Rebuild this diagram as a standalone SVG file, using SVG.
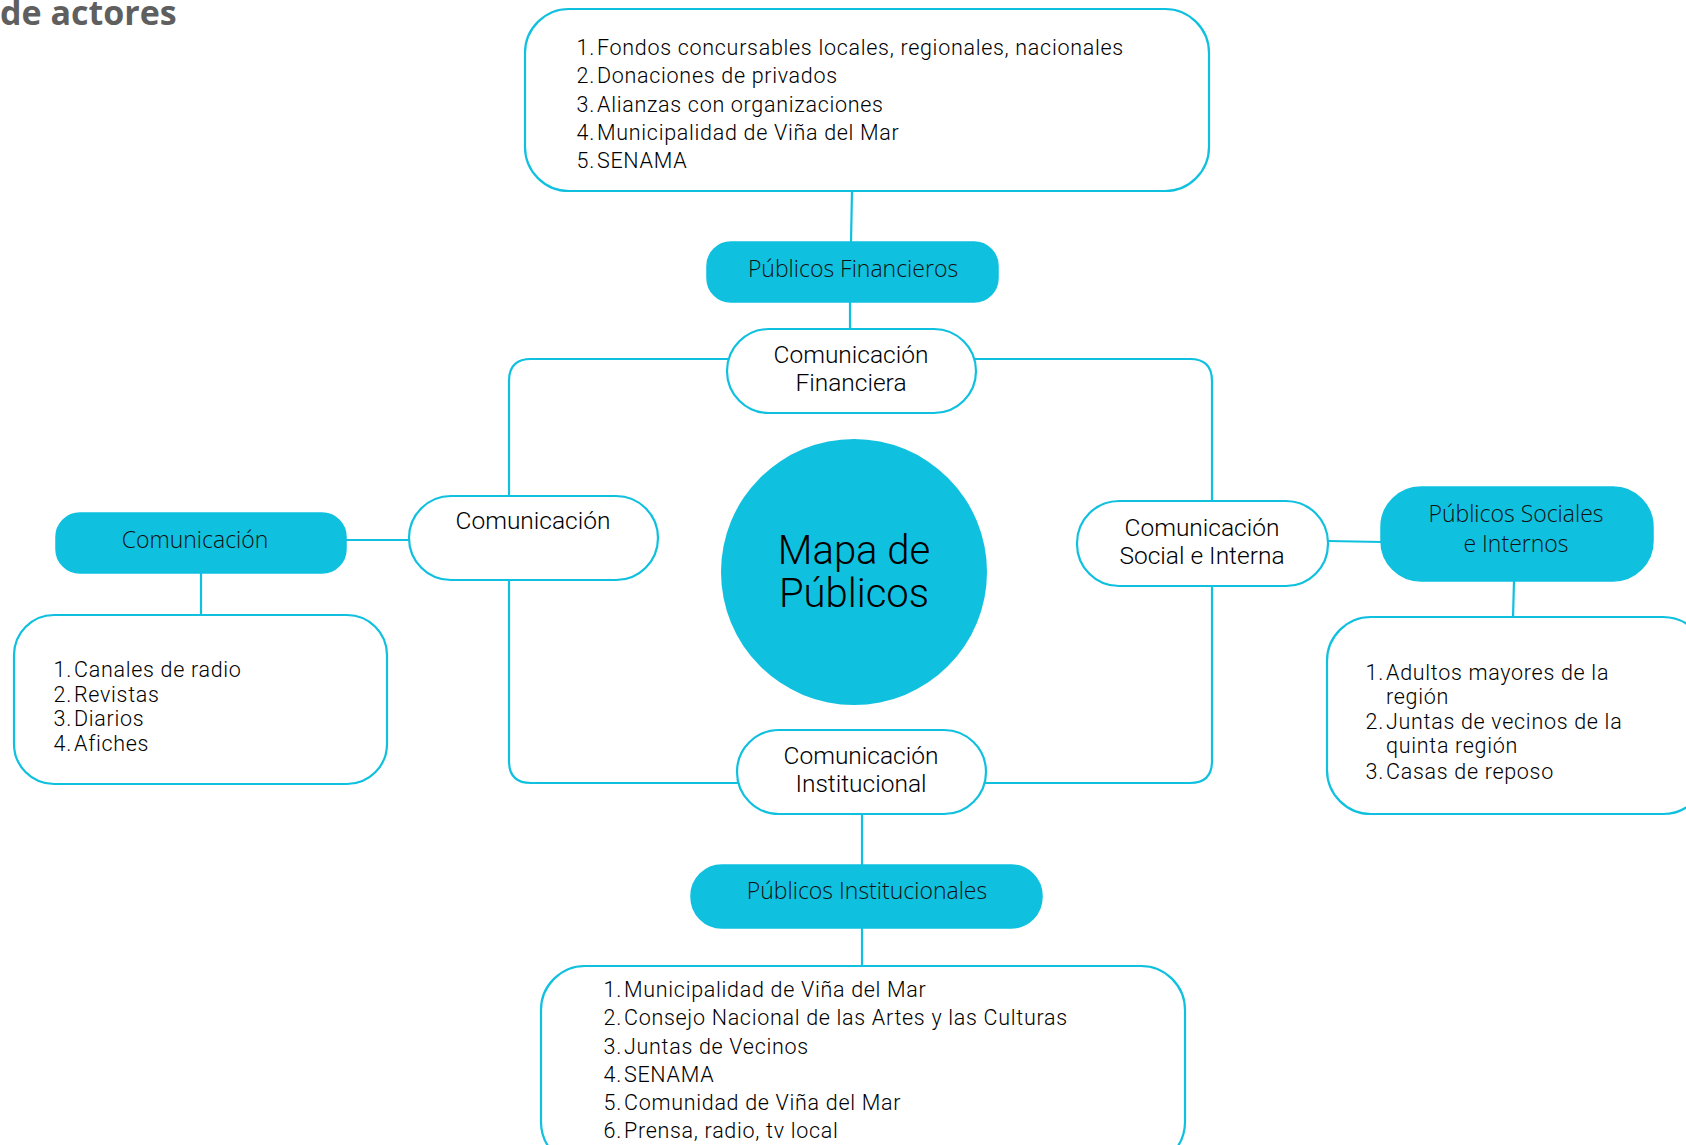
<svg xmlns="http://www.w3.org/2000/svg" width="1686" height="1145" viewBox="0 0 1686 1145">
<style>
.bg{fill:#ffffff}
.con{fill:none;stroke:#0fc0df;stroke-width:2.2}
.box{fill:#ffffff;stroke:#0fc0df;stroke-width:2.2}
.blue{fill:#0fc0df;stroke:#0fc0df;stroke-width:1.5}
.lst{font-family:Roboto,"Liberation Sans",sans-serif;font-weight:300;font-size:21.5px;letter-spacing:0.7px;fill:#000000}
.num{text-anchor:end}
.pl{font-family:"Open Sans","Noto Sans",sans-serif;font-weight:300;font-size:23px;fill:#111111;text-anchor:middle}
.wl{font-family:Roboto,"Liberation Sans",sans-serif;font-weight:300;font-size:24.5px;fill:#000000;text-anchor:middle}
.title{font-family:"Open Sans","Noto Sans",sans-serif;font-weight:700;font-size:34px;fill:#5f5f5f}
</style>
<rect class="bg" x="0" y="0" width="1686" height="1145"/>
<text class="title" x="0" y="25">de actores</text>
<g id="connectors">
<line class="con" x1="852" y1="191" x2="851" y2="242"/>
<line class="con" x1="850" y1="302" x2="850" y2="330"/>
<path class="con" d="M509 497 V381 Q509 359 531 359 H728"/>
<path class="con" d="M975 359 H1190 Q1212 359 1212 381 V502"/>
<path class="con" d="M509 579 V761 Q509 783 531 783 H738"/>
<path class="con" d="M985 783 H1190 Q1212 783 1212 761 V585"/>
<line class="con" x1="346" y1="540" x2="409" y2="540"/>
<line class="con" x1="201" y1="573" x2="201" y2="615"/>
<line class="con" x1="1328" y1="541" x2="1382" y2="542"/>
<line class="con" x1="1514" y1="581" x2="1513" y2="618"/>
<line class="con" x1="862" y1="814" x2="862" y2="866"/>
<line class="con" x1="862" y1="928" x2="862" y2="967"/>
</g>
<g id="fondos">
<rect class="box" x="525" y="9" width="684" height="182" rx="44"/>
<text class="lst num" x="595" y="55">1.</text><text class="lst" x="597" y="55">Fondos concursables locales, regionales, nacionales</text>
<text class="lst num" x="595" y="83">2.</text><text class="lst" x="597" y="83">Donaciones de privados</text>
<text class="lst num" x="595" y="112">3.</text><text class="lst" x="597" y="112">Alianzas con organizaciones</text>
<text class="lst num" x="595" y="140">4.</text><text class="lst" x="597" y="140">Municipalidad de Viña del Mar</text>
<text class="lst num" x="595" y="168">5.</text><text class="lst" x="597" y="168">SENAMA</text>
</g>
<g id="publicos-financieros">
<rect class="blue" x="707" y="242" width="291" height="60" rx="24"/>
<text class="pl" x="853" y="277">Públicos Financieros</text>
</g>
<g id="com-financiera">
<rect class="box" x="727" y="329" width="249" height="84" rx="42"/>
<text class="wl" x="851" y="363">Comunicación</text>
<text class="wl" x="851" y="391">Financiera</text>
</g>
<g id="mapa">
<circle cx="854" cy="572" r="133" fill="#0fc0df"/>
<text x="854" y="564" text-anchor="middle" font-family="Roboto,'Liberation Sans',sans-serif" font-weight="300" font-size="40" fill="#000000">Mapa de</text>
<text x="854" y="607" text-anchor="middle" font-family="Roboto,'Liberation Sans',sans-serif" font-weight="300" font-size="40" fill="#000000">Públicos</text>
</g>
<g id="comunicacion">
<rect class="box" x="409" y="496" width="249" height="84" rx="42"/>
<text class="wl" x="533" y="529">Comunicación</text>
</g>
<g id="comunicacion-blue">
<rect class="blue" x="56" y="513" width="290" height="60" rx="24"/>
<text class="pl" x="195" y="548">Comunicación</text>
</g>
<g id="medios">
<rect class="box" x="14" y="615" width="373" height="169" rx="40"/>
<text class="lst num" x="72" y="677">1.</text><text class="lst" x="74" y="677">Canales de radio</text>
<text class="lst num" x="72" y="702">2.</text><text class="lst" x="74" y="702">Revistas</text>
<text class="lst num" x="72" y="726">3.</text><text class="lst" x="74" y="726">Diarios</text>
<text class="lst num" x="72" y="751">4.</text><text class="lst" x="74" y="751">Afiches</text>
</g>
<g id="com-social">
<rect class="box" x="1077" y="501" width="251" height="85" rx="42"/>
<text class="wl" x="1202" y="536">Comunicación</text>
<text class="wl" x="1202" y="564">Social e Interna</text>
</g>
<g id="publicos-sociales">
<rect class="blue" x="1381" y="487" width="272" height="94" rx="40"/>
<text class="pl" x="1516" y="522">Públicos Sociales</text>
<text class="pl" x="1516" y="552">e Internos</text>
</g>
<g id="sociales-lista">
<rect class="box" x="1327" y="617" width="380" height="197" rx="44"/>
<text class="lst num" x="1384" y="680">1.</text><text class="lst" x="1386" y="680">Adultos mayores de la</text>
<text class="lst" x="1386" y="704">región</text>
<text class="lst num" x="1384" y="729">2.</text><text class="lst" x="1386" y="729">Juntas de vecinos de la</text>
<text class="lst" x="1386" y="753">quinta región</text>
<text class="lst num" x="1384" y="779">3.</text><text class="lst" x="1386" y="779">Casas de reposo</text>
</g>
<g id="com-institucional">
<rect class="box" x="737" y="730" width="249" height="84" rx="42"/>
<text class="wl" x="861" y="764">Comunicación</text>
<text class="wl" x="861" y="792">Institucional</text>
</g>
<g id="publicos-institucionales">
<rect class="blue" x="691" y="865" width="351" height="63" rx="31"/>
<text class="pl" x="867" y="899">Públicos Institucionales</text>
</g>
<g id="institucionales-lista">
<rect class="box" x="541" y="966" width="644" height="200" rx="44"/>
<text class="lst num" x="622" y="997">1.</text><text class="lst" x="624" y="997">Municipalidad de Viña del Mar</text>
<text class="lst num" x="622" y="1025">2.</text><text class="lst" x="624" y="1025">Consejo Nacional de las Artes y las Culturas</text>
<text class="lst num" x="622" y="1054">3.</text><text class="lst" x="624" y="1054">Juntas de Vecinos</text>
<text class="lst num" x="622" y="1082">4.</text><text class="lst" x="624" y="1082">SENAMA</text>
<text class="lst num" x="622" y="1110">5.</text><text class="lst" x="624" y="1110">Comunidad de Viña del Mar</text>
<text class="lst num" x="622" y="1138">6.</text><text class="lst" x="624" y="1138">Prensa, radio, tv local</text>
</g>
</svg>
